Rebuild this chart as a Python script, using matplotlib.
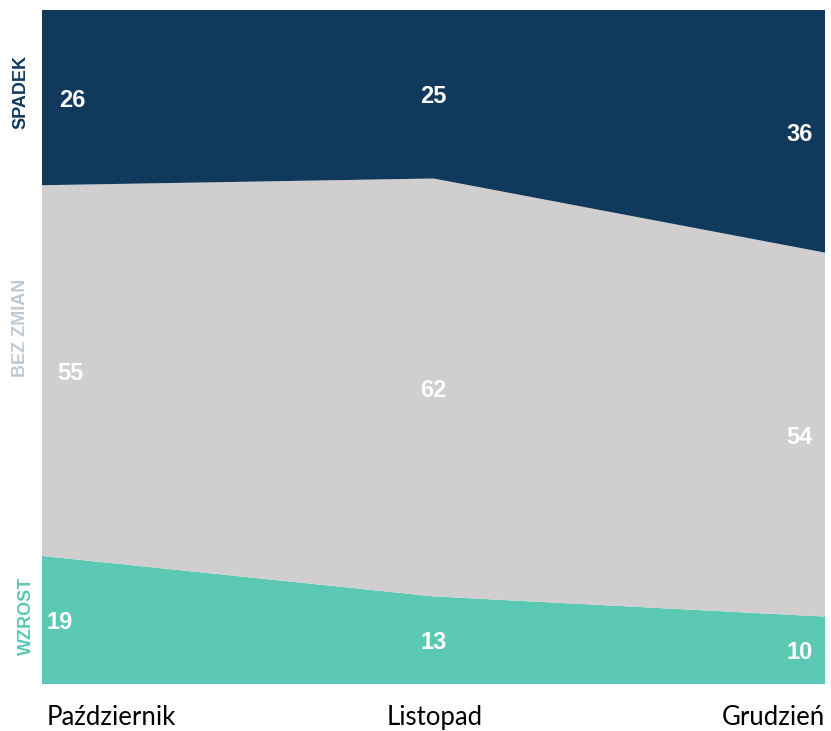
import matplotlib
matplotlib.use("Agg")
import matplotlib.pyplot as plt
import numpy as np

months = ["Październik", "Listopad", "Grudzień"]
wzrost = [19, 13, 10]
bez_zmian = [55, 62, 54]
spadek = [26, 25, 36]
series_names = ["WZROST", "BEZ ZMIAN", "SPADEK"]

colors = ["#5ac8b3", "#d0cecf", "#10395b"]
name_colors = ["#5ac8b3", "#bfc9d4", "#10395b"]

W, H = 831, 731
fig = plt.figure(figsize=(W / 100, H / 100), dpi=100)
ax = fig.add_axes([42 / W, (H - 684) / H, (825 - 42) / W, (684 - 10) / H])

x = np.arange(len(months))
data = np.array([wzrost, bez_zmian, spadek], dtype=float)
ax.stackplot(x, data, colors=colors, linewidth=0)
ax.set_xlim(0, 2)
ax.set_ylim(0, 100)
for s in ax.spines.values():
    s.set_visible(False)
ax.set_yticks([])
ax.set_xticks(x)
ax.set_xticklabels([])
ax.tick_params(axis="x", length=0)

# x labels
tick_font = dict(family=["Lato", "DejaVu Sans"], fontsize=18.5, color="#000000")
ax.text(0.006, -0.05, months[0], transform=ax.transAxes, ha="left", va="center", **tick_font)
ax.text(0.501, -0.05, months[1], transform=ax.transAxes, ha="center", va="center", **tick_font)
ax.text(1.0, -0.05, months[2], transform=ax.transAxes, ha="right", va="center", **tick_font)

# value labels at band midpoints
bottoms = np.vstack([np.zeros(3), np.cumsum(data, axis=0)[:-1]])
mids = bottoms + data / 2
label_x = {0: [0.046, 0.072, 0.077], 1: [1.0, 1.0, 1.0], 2: [1.934, 1.934, 1.934]}
for j in range(3):
    for i in range(3):
        ax.text(label_x[j][i], mids[i, j] - 0.4, f"{int(data[i, j])}",
                ha="center", va="center", color="white", fontsize=17,
                fontweight="bold", family=["Liberation Sans", "DejaVu Sans"])

# rotated series names on the left
name_y = [10.1, 52.8, 87.8]
name_x = [26, 21, 21]
for k in range(3):
    fig.text(name_x[k] / W, (H - 684 + name_y[k] / 100 * 674) / H, series_names[k],
             rotation=90, ha="center", va="center", color=name_colors[k],
             fontsize=13, fontweight="bold", family=["Liberation Sans", "DejaVu Sans"])

fig.savefig("out.png", dpi=100)
